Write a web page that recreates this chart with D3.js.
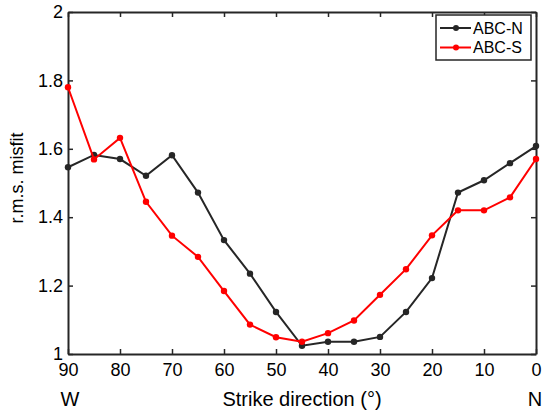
<!DOCTYPE html>
<html>
<head>
<meta charset="utf-8">
<script src="https://cdn.jsdelivr.net/npm/d3@7"></script>
<style>
  body { margin: 0; background: #fff; }
  svg { font-family: "Liberation Sans", Arial, Helvetica, sans-serif; }
  .axis path, .axis line { stroke: #262626; }
  .axis text { fill: #000; }
</style>
</head>
<body>
<svg id="chart"></svg>
<script>
// strike angles, W (90) on the left to N (0) on the right
const strikes = [90, 85, 80, 75, 70, 65, 60, 55, 50, 45, 40, 35, 30, 25, 20, 15, 10, 5, 0];
const misfitN = [1.546, 1.582, 1.570, 1.521, 1.581, 1.472, 1.333, 1.235, 1.123, 1.024, 1.036, 1.036, 1.050, 1.123, 1.222, 1.472, 1.508, 1.558, 1.608];
const misfitS = [1.780, 1.569, 1.632, 1.445, 1.346, 1.284, 1.184, 1.086, 1.049, 1.036, 1.061, 1.098, 1.173, 1.248, 1.347, 1.420, 1.420, 1.458, 1.570];
const seriesNames = ['ABC-N', 'ABC-S'];
const xTicks = [90, 80, 70, 60, 50, 40, 30, 20, 10, 0];
const yTicks = [1, 1.2, 1.4, 1.6, 1.8, 2];

class MisfitChart {

    constructor(_config) {
        this.config = {
            parentElement: _config.parentElement,
            containerWidth: _config.containerWidth || 542,
            containerHeight: _config.containerHeight || 417,
            margin: {top: 12, right: 6, bottom: 63, left: 68}
        }
        this.initVis();
    }

    initVis() {
        let vis = this;

        vis.width = vis.config.containerWidth - vis.config.margin.left - vis.config.margin.right;
        vis.height = vis.config.containerHeight - vis.config.margin.top - vis.config.margin.bottom;

        vis.svg = d3.select(vis.config.parentElement)
            .attr('width', vis.config.containerWidth)
            .attr('height', vis.config.containerHeight);

        vis.chart = vis.svg.append('g')
            .attr('transform', `translate(${vis.config.margin.left},${vis.config.margin.top})`);

        vis.xScale = d3.scaleLinear().domain([90, 0]).range([0, vis.width]);
        vis.yScale = d3.scaleLinear().domain([1, 2]).range([vis.height, 0]);

        // ticks point inward, box on all four sides
        vis.xAxis = d3.axisBottom(vis.xScale).tickValues(xTicks).tickSizeInner(-5).tickSizeOuter(0).tickPadding(9);
        vis.yAxis = d3.axisLeft(vis.yScale).tickValues(yTicks).tickSizeInner(-5).tickSizeOuter(0).tickPadding(5)
            .tickFormat(d3.format('~g'));
        vis.xAxisTop = d3.axisTop(vis.xScale).tickValues(xTicks).tickSizeInner(-5).tickSizeOuter(0).tickFormat('');
        vis.yAxisRight = d3.axisRight(vis.yScale).tickValues(yTicks).tickSizeInner(-5).tickSizeOuter(0).tickFormat('');

        vis.chart.append('g').attr('class', 'axis').call(vis.xAxisTop);
        vis.chart.append('g').attr('class', 'axis')
            .attr('transform', `translate(${vis.width},0)`)
            .call(vis.yAxisRight);
        vis.chart.append('g').attr('class', 'axis x-axis')
            .attr('transform', `translate(0,${vis.height})`)
            .call(vis.xAxis);
        vis.chart.append('g').attr('class', 'axis y-axis')
            .call(vis.yAxis);

        vis.chart.selectAll('.axis path').attr('stroke-width', 2);
        vis.chart.selectAll('.axis line').attr('stroke-width', 1.5);
        vis.chart.selectAll('.x-axis text').attr('font-size', 18).attr('font-family', null);
        vis.chart.selectAll('.y-axis text').attr('font-size', 18).attr('font-family', null);

        // axis titles
        vis.chart.append('text')
            .attr('x', vis.width / 2)
            .attr('y', vis.height + 52)
            .attr('text-anchor', 'middle')
            .attr('font-size', 20)
            .text('Strike direction (°)');
        vis.chart.append('text')
            .attr('x', vis.xScale(90) + 2)
            .attr('y', vis.height + 52)
            .attr('text-anchor', 'middle')
            .attr('font-size', 20)
            .text('W');
        vis.chart.append('text')
            .attr('x', vis.xScale(0) - 1)
            .attr('y', vis.height + 52)
            .attr('text-anchor', 'middle')
            .attr('font-size', 20)
            .text('N');
        vis.chart.append('text')
            .attr('transform', `translate(${-45},${vis.height / 2 - 5}) rotate(-90)`)
            .attr('text-anchor', 'middle')
            .attr('font-size', 18)
            .text('r.m.s. misfit');

        vis.updateVis();
    }

    updateVis() {
        let vis = this;

        vis.series = [
            {name: seriesNames[0], color: '#262626', values: misfitN},
            {name: seriesNames[1], color: '#ff0000', values: misfitS}
        ];

        vis.line = d3.line()
            .x((d, i) => vis.xScale(strikes[i]))
            .y(d => vis.yScale(d));

        vis.renderVis();
    }

    renderVis() {
        let vis = this;

        const g = vis.chart.selectAll('.series')
            .data(vis.series)
            .join('g')
            .attr('class', 'series');

        g.append('path')
            .attr('d', d => vis.line(d.values))
            .attr('fill', 'none')
            .attr('stroke', d => d.color)
            .attr('stroke-width', 2);

        g.selectAll('circle')
            .data(d => d.values.map((v, i) => ({v: v, s: strikes[i], color: d.color})))
            .join('circle')
            .attr('cx', d => vis.xScale(d.s))
            .attr('cy', d => vis.yScale(d.v))
            .attr('r', 3.2)
            .attr('fill', d => d.color);

        // legend, top right corner
        const legend = vis.chart.append('g')
            .attr('transform', `translate(${vis.width - 100},3)`);

        legend.append('rect')
            .attr('width', 95)
            .attr('height', 45)
            .attr('fill', '#fff')
            .attr('stroke', '#262626')
            .attr('stroke-width', 1.5);

        const item = legend.selectAll('.item')
            .data(vis.series)
            .join('g')
            .attr('class', 'item')
            .attr('transform', (d, i) => `translate(0,${13 + i * 19.5})`);

        item.append('line')
            .attr('x1', 4).attr('x2', 35)
            .attr('stroke', d => d.color)
            .attr('stroke-width', 2);
        item.append('circle')
            .attr('cx', 20)
            .attr('r', 3)
            .attr('fill', d => d.color);
        item.append('text')
            .attr('x', 37)
            .attr('dy', '0.36em')
            .attr('font-size', 16)
            .text(d => d.name);
    }
}

new MisfitChart({parentElement: '#chart'});
</script>
</body>
</html>
